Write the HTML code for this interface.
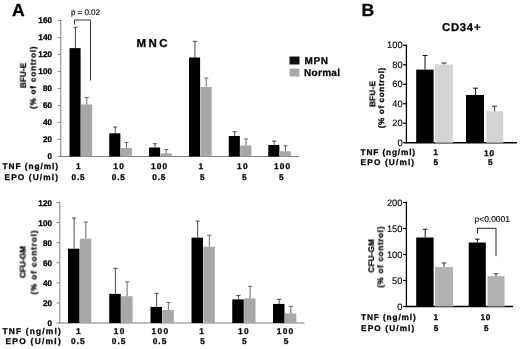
<!DOCTYPE html>
<html><head><meta charset="utf-8"><title>Figure</title>
<style>
html,body{margin:0;padding:0;background:#fff;}
svg{display:block;font-family:"Liberation Sans", Arial, sans-serif;}
svg text{filter:url(#soft);text-rendering:geometricPrecision;}
</style></head>
<body>
<svg width="520" height="349" viewBox="0 0 520 349">
<defs><filter id="soft" x="-5%" y="-20%" width="110%" height="140%"><feGaussianBlur stdDeviation="0.3"/></filter></defs>
<rect x="0" y="0" width="520" height="349" fill="#fff"/>
<text x="12.0" y="15.6" font-size="17.6" font-weight="bold" stroke="#000" stroke-width="0.28" fill="#000">A</text>
<text x="361.6" y="15.5" font-size="17.6" font-weight="bold" stroke="#000" stroke-width="0.28" fill="#000">B</text>
<line x1="60.80" y1="20.00" x2="60.80" y2="157.00" stroke="#7f7f7f" stroke-width="1"/>
<line x1="60.30" y1="156.50" x2="299.00" y2="156.50" stroke="#7f7f7f" stroke-width="1"/>
<line x1="57.80" y1="156.50" x2="60.80" y2="156.50" stroke="#7f7f7f" stroke-width="0.9"/>
<text x="52.0" y="159.1" font-size="8.2" font-weight="bold" stroke="#000" stroke-width="0.28" text-anchor="end" fill="#000">0</text>
<line x1="57.80" y1="139.50" x2="60.80" y2="139.50" stroke="#7f7f7f" stroke-width="0.9"/>
<text x="52.0" y="142.1" font-size="8.2" font-weight="bold" stroke="#000" stroke-width="0.28" text-anchor="end" fill="#000">20</text>
<line x1="57.80" y1="122.50" x2="60.80" y2="122.50" stroke="#7f7f7f" stroke-width="0.9"/>
<text x="52.0" y="125.1" font-size="8.2" font-weight="bold" stroke="#000" stroke-width="0.28" text-anchor="end" fill="#000">40</text>
<line x1="57.80" y1="105.50" x2="60.80" y2="105.50" stroke="#7f7f7f" stroke-width="0.9"/>
<text x="52.0" y="108.1" font-size="8.2" font-weight="bold" stroke="#000" stroke-width="0.28" text-anchor="end" fill="#000">60</text>
<line x1="57.80" y1="88.50" x2="60.80" y2="88.50" stroke="#7f7f7f" stroke-width="0.9"/>
<text x="52.0" y="91.1" font-size="8.2" font-weight="bold" stroke="#000" stroke-width="0.28" text-anchor="end" fill="#000">80</text>
<line x1="57.80" y1="71.50" x2="60.80" y2="71.50" stroke="#7f7f7f" stroke-width="0.9"/>
<text x="52.0" y="74.1" font-size="8.2" font-weight="bold" stroke="#000" stroke-width="0.28" text-anchor="end" fill="#000">100</text>
<line x1="57.80" y1="54.50" x2="60.80" y2="54.50" stroke="#7f7f7f" stroke-width="0.9"/>
<text x="52.0" y="57.1" font-size="8.2" font-weight="bold" stroke="#000" stroke-width="0.28" text-anchor="end" fill="#000">120</text>
<line x1="57.80" y1="37.50" x2="60.80" y2="37.50" stroke="#7f7f7f" stroke-width="0.9"/>
<text x="52.0" y="40.1" font-size="8.2" font-weight="bold" stroke="#000" stroke-width="0.28" text-anchor="end" fill="#000">140</text>
<line x1="57.80" y1="20.50" x2="60.80" y2="20.50" stroke="#7f7f7f" stroke-width="0.9"/>
<text x="52.0" y="23.1" font-size="8.2" font-weight="bold" stroke="#000" stroke-width="0.28" text-anchor="end" fill="#000">160</text>
<rect x="69.50" y="48.12" width="11.10" height="108.38" fill="#000"/>
<rect x="80.90" y="104.40" width="11.30" height="52.10" fill="#a8a8a8"/>
<line x1="75.45" y1="27.30" x2="75.45" y2="48.12" stroke="#222" stroke-width="0.8"/>
<line x1="73.35" y1="27.30" x2="77.55" y2="27.30" stroke="#222" stroke-width="0.8"/>
<line x1="86.75" y1="97.43" x2="86.75" y2="104.40" stroke="#444" stroke-width="0.8"/>
<line x1="84.65" y1="97.43" x2="88.85" y2="97.43" stroke="#444" stroke-width="0.8"/>
<rect x="109.25" y="133.30" width="11.10" height="23.20" fill="#000"/>
<rect x="120.65" y="148.00" width="11.30" height="8.50" fill="#a8a8a8"/>
<line x1="115.20" y1="127.00" x2="115.20" y2="133.30" stroke="#222" stroke-width="0.8"/>
<line x1="113.10" y1="127.00" x2="117.30" y2="127.00" stroke="#222" stroke-width="0.8"/>
<line x1="126.50" y1="142.47" x2="126.50" y2="148.00" stroke="#444" stroke-width="0.8"/>
<line x1="124.40" y1="142.47" x2="128.60" y2="142.47" stroke="#444" stroke-width="0.8"/>
<rect x="149.00" y="147.49" width="11.10" height="9.01" fill="#000"/>
<rect x="160.40" y="153.27" width="11.30" height="3.23" fill="#a8a8a8"/>
<line x1="154.95" y1="143.75" x2="154.95" y2="147.49" stroke="#222" stroke-width="0.8"/>
<line x1="152.85" y1="143.75" x2="157.05" y2="143.75" stroke="#222" stroke-width="0.8"/>
<line x1="166.25" y1="149.53" x2="166.25" y2="153.27" stroke="#444" stroke-width="0.8"/>
<line x1="164.15" y1="149.53" x2="168.35" y2="149.53" stroke="#444" stroke-width="0.8"/>
<rect x="189.00" y="57.48" width="11.10" height="99.02" fill="#000"/>
<rect x="200.40" y="86.97" width="11.30" height="69.53" fill="#a8a8a8"/>
<line x1="194.95" y1="41.24" x2="194.95" y2="57.48" stroke="#222" stroke-width="0.8"/>
<line x1="192.85" y1="41.24" x2="197.05" y2="41.24" stroke="#222" stroke-width="0.8"/>
<line x1="206.25" y1="78.05" x2="206.25" y2="86.97" stroke="#444" stroke-width="0.8"/>
<line x1="204.15" y1="78.05" x2="208.35" y2="78.05" stroke="#444" stroke-width="0.8"/>
<rect x="228.75" y="136.01" width="11.10" height="20.49" fill="#000"/>
<rect x="240.15" y="145.45" width="11.30" height="11.05" fill="#a8a8a8"/>
<line x1="234.70" y1="131.76" x2="234.70" y2="136.01" stroke="#222" stroke-width="0.8"/>
<line x1="232.60" y1="131.76" x2="236.80" y2="131.76" stroke="#222" stroke-width="0.8"/>
<line x1="246.00" y1="138.99" x2="246.00" y2="145.45" stroke="#444" stroke-width="0.8"/>
<line x1="243.90" y1="138.99" x2="248.10" y2="138.99" stroke="#444" stroke-width="0.8"/>
<rect x="268.25" y="145.03" width="11.10" height="11.47" fill="#000"/>
<rect x="279.65" y="151.23" width="11.30" height="5.27" fill="#a8a8a8"/>
<line x1="274.20" y1="141.20" x2="274.20" y2="145.03" stroke="#222" stroke-width="0.8"/>
<line x1="272.10" y1="141.20" x2="276.30" y2="141.20" stroke="#222" stroke-width="0.8"/>
<line x1="285.50" y1="145.79" x2="285.50" y2="151.23" stroke="#444" stroke-width="0.8"/>
<line x1="283.40" y1="145.79" x2="287.60" y2="145.79" stroke="#444" stroke-width="0.8"/>
<polyline points="74.5,24.5 74.5,20 90.5,20 90.5,80.5" fill="none" stroke="#222" stroke-width="0.9"/>
<text x="71" y="15" font-size="8.2" stroke="#000" stroke-width="0.12" textLength="29" lengthAdjust="spacing" fill="#000">p = 0.02</text>
<text x="136.5" y="47" font-size="11.5" font-weight="bold" stroke="#000" stroke-width="0.28" textLength="31" lengthAdjust="spacing" fill="#000">MNC</text>
<rect x="289.50" y="56.50" width="10.00" height="8.00" fill="#111"/>
<rect x="289.50" y="68.50" width="10.00" height="8.00" fill="#a8a8a8"/>
<text x="304.5" y="64.3" font-size="10" font-weight="bold" stroke="#000" stroke-width="0.28" textLength="23.5" lengthAdjust="spacing" fill="#000">MPN</text>
<text x="304" y="76.3" font-size="10" font-weight="bold" stroke="#000" stroke-width="0.28" textLength="36" lengthAdjust="spacing" fill="#000">Normal</text>
<text x="25.3" y="75.5" font-size="8.1" font-weight="bold" stroke="#000" stroke-width="0.28" text-anchor="middle" textLength="25" lengthAdjust="spacing" transform="rotate(-90 25.3 75.5)" fill="#000">BFU-E</text>
<text x="35.3" y="77.6" font-size="8.1" font-weight="bold" stroke="#000" stroke-width="0.28" text-anchor="middle" textLength="62.5" lengthAdjust="spacing" transform="rotate(-90 35.3 77.6)" fill="#000">(% of control)</text>
<text x="2.5" y="169.4" font-size="8.3" font-weight="bold" stroke="#000" stroke-width="0.28" textLength="55.5" lengthAdjust="spacing" fill="#000">TNF (ng/ml)</text>
<text x="4.5" y="179.7" font-size="8.3" font-weight="bold" stroke="#000" stroke-width="0.28" textLength="53.5" lengthAdjust="spacing" fill="#000">EPO (U/ml)</text>
<text x="78.9" y="169.3" font-size="8.3" font-weight="bold" stroke="#000" stroke-width="0.28" text-anchor="middle" letter-spacing="1.2" fill="#000">1</text>
<text x="78.5" y="179.6" font-size="8.3" font-weight="bold" stroke="#000" stroke-width="0.28" text-anchor="middle" letter-spacing="0.8" fill="#000">0.5</text>
<text x="119.15" y="169.3" font-size="8.3" font-weight="bold" stroke="#000" stroke-width="0.28" text-anchor="middle" letter-spacing="1.2" fill="#000">10</text>
<text x="118.75" y="179.6" font-size="8.3" font-weight="bold" stroke="#000" stroke-width="0.28" text-anchor="middle" letter-spacing="0.8" fill="#000">0.5</text>
<text x="159.65" y="169.3" font-size="8.3" font-weight="bold" stroke="#000" stroke-width="0.28" text-anchor="middle" letter-spacing="1.2" fill="#000">100</text>
<text x="159.25" y="179.6" font-size="8.3" font-weight="bold" stroke="#000" stroke-width="0.28" text-anchor="middle" letter-spacing="0.8" fill="#000">0.5</text>
<text x="201.4" y="169.3" font-size="8.3" font-weight="bold" stroke="#000" stroke-width="0.28" text-anchor="middle" letter-spacing="1.2" fill="#000">1</text>
<text x="202.7" y="179.6" font-size="8.3" font-weight="bold" stroke="#000" stroke-width="0.28" text-anchor="middle" letter-spacing="0.8" fill="#000">5</text>
<text x="242.9" y="169.3" font-size="8.3" font-weight="bold" stroke="#000" stroke-width="0.28" text-anchor="middle" letter-spacing="1.2" fill="#000">10</text>
<text x="244.6" y="179.6" font-size="8.3" font-weight="bold" stroke="#000" stroke-width="0.28" text-anchor="middle" letter-spacing="0.8" fill="#000">5</text>
<text x="282.65" y="169.3" font-size="8.3" font-weight="bold" stroke="#000" stroke-width="0.28" text-anchor="middle" letter-spacing="1.2" fill="#000">100</text>
<text x="281.6" y="179.6" font-size="8.3" font-weight="bold" stroke="#000" stroke-width="0.28" text-anchor="middle" letter-spacing="0.8" fill="#000">5</text>
<line x1="59.80" y1="202.00" x2="59.80" y2="323.50" stroke="#7f7f7f" stroke-width="1"/>
<line x1="59.30" y1="323.00" x2="304.50" y2="323.00" stroke="#7f7f7f" stroke-width="1"/>
<line x1="56.40" y1="323.00" x2="59.80" y2="323.00" stroke="#7f7f7f" stroke-width="0.9"/>
<text x="52.0" y="326.1" font-size="8.2" font-weight="bold" stroke="#000" stroke-width="0.28" text-anchor="end" fill="#000">0</text>
<line x1="56.40" y1="302.92" x2="59.80" y2="302.92" stroke="#7f7f7f" stroke-width="0.9"/>
<text x="52.0" y="306.0166666666667" font-size="8.2" font-weight="bold" stroke="#000" stroke-width="0.28" text-anchor="end" fill="#000">20</text>
<line x1="56.40" y1="282.83" x2="59.80" y2="282.83" stroke="#7f7f7f" stroke-width="0.9"/>
<text x="52.0" y="285.93333333333334" font-size="8.2" font-weight="bold" stroke="#000" stroke-width="0.28" text-anchor="end" fill="#000">40</text>
<line x1="56.40" y1="262.75" x2="59.80" y2="262.75" stroke="#7f7f7f" stroke-width="0.9"/>
<text x="52.0" y="265.85" font-size="8.2" font-weight="bold" stroke="#000" stroke-width="0.28" text-anchor="end" fill="#000">60</text>
<line x1="56.40" y1="242.67" x2="59.80" y2="242.67" stroke="#7f7f7f" stroke-width="0.9"/>
<text x="52.0" y="245.76666666666668" font-size="8.2" font-weight="bold" stroke="#000" stroke-width="0.28" text-anchor="end" fill="#000">80</text>
<line x1="56.40" y1="222.58" x2="59.80" y2="222.58" stroke="#7f7f7f" stroke-width="0.9"/>
<text x="52.0" y="225.6833333333333" font-size="8.2" font-weight="bold" stroke="#000" stroke-width="0.28" text-anchor="end" fill="#000">100</text>
<line x1="56.40" y1="202.50" x2="59.80" y2="202.50" stroke="#7f7f7f" stroke-width="0.9"/>
<text x="52.0" y="205.6" font-size="8.2" font-weight="bold" stroke="#000" stroke-width="0.28" text-anchor="end" fill="#000">120</text>
<rect x="68.00" y="248.69" width="11.50" height="74.31" fill="#000"/>
<rect x="79.80" y="238.65" width="11.50" height="84.35" fill="#a8a8a8"/>
<line x1="74.15" y1="218.06" x2="74.15" y2="248.69" stroke="#222" stroke-width="0.8"/>
<line x1="72.05" y1="218.06" x2="76.25" y2="218.06" stroke="#222" stroke-width="0.8"/>
<line x1="85.85" y1="222.08" x2="85.85" y2="238.65" stroke="#444" stroke-width="0.8"/>
<line x1="83.75" y1="222.08" x2="87.95" y2="222.08" stroke="#444" stroke-width="0.8"/>
<rect x="109.25" y="293.88" width="11.50" height="29.12" fill="#000"/>
<rect x="121.05" y="296.19" width="11.50" height="26.81" fill="#a8a8a8"/>
<line x1="115.40" y1="268.27" x2="115.40" y2="293.88" stroke="#222" stroke-width="0.8"/>
<line x1="113.30" y1="268.27" x2="117.50" y2="268.27" stroke="#222" stroke-width="0.8"/>
<line x1="127.10" y1="281.83" x2="127.10" y2="296.19" stroke="#444" stroke-width="0.8"/>
<line x1="125.00" y1="281.83" x2="129.20" y2="281.83" stroke="#444" stroke-width="0.8"/>
<rect x="150.50" y="306.93" width="11.50" height="16.07" fill="#000"/>
<rect x="162.30" y="309.95" width="11.50" height="13.05" fill="#a8a8a8"/>
<line x1="156.65" y1="293.38" x2="156.65" y2="306.93" stroke="#222" stroke-width="0.8"/>
<line x1="154.55" y1="293.38" x2="158.75" y2="293.38" stroke="#222" stroke-width="0.8"/>
<line x1="168.35" y1="302.41" x2="168.35" y2="309.95" stroke="#444" stroke-width="0.8"/>
<line x1="166.25" y1="302.41" x2="170.45" y2="302.41" stroke="#444" stroke-width="0.8"/>
<rect x="191.50" y="237.65" width="11.50" height="85.35" fill="#000"/>
<rect x="203.30" y="246.68" width="11.50" height="76.32" fill="#a8a8a8"/>
<line x1="197.65" y1="221.08" x2="197.65" y2="237.65" stroke="#222" stroke-width="0.8"/>
<line x1="195.55" y1="221.08" x2="199.75" y2="221.08" stroke="#222" stroke-width="0.8"/>
<line x1="209.35" y1="235.14" x2="209.35" y2="246.68" stroke="#444" stroke-width="0.8"/>
<line x1="207.25" y1="235.14" x2="211.45" y2="235.14" stroke="#444" stroke-width="0.8"/>
<rect x="232.25" y="299.40" width="11.50" height="23.60" fill="#000"/>
<rect x="244.05" y="298.40" width="11.50" height="24.60" fill="#a8a8a8"/>
<line x1="238.40" y1="295.39" x2="238.40" y2="299.40" stroke="#222" stroke-width="0.8"/>
<line x1="236.30" y1="295.39" x2="240.50" y2="295.39" stroke="#222" stroke-width="0.8"/>
<line x1="250.10" y1="286.35" x2="250.10" y2="298.40" stroke="#444" stroke-width="0.8"/>
<line x1="248.00" y1="286.35" x2="252.20" y2="286.35" stroke="#444" stroke-width="0.8"/>
<rect x="273.00" y="303.92" width="11.50" height="19.08" fill="#000"/>
<rect x="284.80" y="313.46" width="11.50" height="9.54" fill="#a8a8a8"/>
<line x1="279.15" y1="299.40" x2="279.15" y2="303.92" stroke="#222" stroke-width="0.8"/>
<line x1="277.05" y1="299.40" x2="281.25" y2="299.40" stroke="#222" stroke-width="0.8"/>
<line x1="290.85" y1="306.43" x2="290.85" y2="313.46" stroke="#444" stroke-width="0.8"/>
<line x1="288.75" y1="306.43" x2="292.95" y2="306.43" stroke="#444" stroke-width="0.8"/>
<text x="25.5" y="262" font-size="8.1" font-weight="bold" stroke="#000" stroke-width="0.28" text-anchor="middle" textLength="32" lengthAdjust="spacing" transform="rotate(-90 25.5 262)" fill="#000">CFU-GM</text>
<text x="36" y="262.5" font-size="8.1" font-weight="bold" stroke="#000" stroke-width="0.28" text-anchor="middle" textLength="64" lengthAdjust="spacing" transform="rotate(-90 36 262.5)" fill="#000">(% of control)</text>
<text x="2.5" y="334.0" font-size="8.4" font-weight="bold" stroke="#000" stroke-width="0.28" textLength="58.2" lengthAdjust="spacing" fill="#000">TNF (ng/ml)</text>
<text x="5.5" y="344.4" font-size="8.4" font-weight="bold" stroke="#000" stroke-width="0.28" textLength="55.2" lengthAdjust="spacing" fill="#000">EPO (U/ml)</text>
<text x="78.9" y="334.0" font-size="8.4" font-weight="bold" stroke="#000" stroke-width="0.28" text-anchor="middle" letter-spacing="1.3" fill="#000">1</text>
<text x="78.4" y="344.4" font-size="8.4" font-weight="bold" stroke="#000" stroke-width="0.28" text-anchor="middle" letter-spacing="1.0" fill="#000">0.5</text>
<text x="119.65" y="334.0" font-size="8.4" font-weight="bold" stroke="#000" stroke-width="0.28" text-anchor="middle" letter-spacing="1.3" fill="#000">10</text>
<text x="119.15" y="344.4" font-size="8.4" font-weight="bold" stroke="#000" stroke-width="0.28" text-anchor="middle" letter-spacing="1.0" fill="#000">0.5</text>
<text x="160.5" y="334.0" font-size="8.4" font-weight="bold" stroke="#000" stroke-width="0.28" text-anchor="middle" letter-spacing="1.3" fill="#000">100</text>
<text x="160.0" y="344.4" font-size="8.4" font-weight="bold" stroke="#000" stroke-width="0.28" text-anchor="middle" letter-spacing="1.0" fill="#000">0.5</text>
<text x="202.15" y="334.0" font-size="8.4" font-weight="bold" stroke="#000" stroke-width="0.28" text-anchor="middle" letter-spacing="1.3" fill="#000">1</text>
<text x="203.15" y="344.4" font-size="8.4" font-weight="bold" stroke="#000" stroke-width="0.28" text-anchor="middle" letter-spacing="1.0" fill="#000">5</text>
<text x="243.9" y="334.0" font-size="8.4" font-weight="bold" stroke="#000" stroke-width="0.28" text-anchor="middle" letter-spacing="1.3" fill="#000">10</text>
<text x="244.9" y="344.4" font-size="8.4" font-weight="bold" stroke="#000" stroke-width="0.28" text-anchor="middle" letter-spacing="1.0" fill="#000">5</text>
<text x="285.65" y="334.0" font-size="8.4" font-weight="bold" stroke="#000" stroke-width="0.28" text-anchor="middle" letter-spacing="1.3" fill="#000">100</text>
<text x="286.65" y="344.4" font-size="8.4" font-weight="bold" stroke="#000" stroke-width="0.28" text-anchor="middle" letter-spacing="1.0" fill="#000">5</text>
<line x1="406.40" y1="44.60" x2="406.40" y2="143.40" stroke="#000" stroke-width="1.3"/>
<line x1="405.75" y1="142.75" x2="517.00" y2="142.75" stroke="#000" stroke-width="1.3"/>
<line x1="403.00" y1="142.75" x2="406.40" y2="142.75" stroke="#000" stroke-width="1.2"/>
<text x="402.6" y="145.85" font-size="9.3" stroke="#000" stroke-width="0.12" text-anchor="end" fill="#000">0</text>
<line x1="403.00" y1="123.25" x2="406.40" y2="123.25" stroke="#000" stroke-width="1.2"/>
<text x="402.6" y="126.35" font-size="9.3" stroke="#000" stroke-width="0.12" text-anchor="end" fill="#000">20</text>
<line x1="403.00" y1="103.75" x2="406.40" y2="103.75" stroke="#000" stroke-width="1.2"/>
<text x="402.6" y="106.85" font-size="9.3" stroke="#000" stroke-width="0.12" text-anchor="end" fill="#000">40</text>
<line x1="403.00" y1="84.25" x2="406.40" y2="84.25" stroke="#000" stroke-width="1.2"/>
<text x="402.6" y="87.35" font-size="9.3" stroke="#000" stroke-width="0.12" text-anchor="end" fill="#000">60</text>
<line x1="403.00" y1="64.75" x2="406.40" y2="64.75" stroke="#000" stroke-width="1.2"/>
<text x="402.6" y="67.85" font-size="9.3" stroke="#000" stroke-width="0.12" text-anchor="end" fill="#000">80</text>
<line x1="403.00" y1="45.25" x2="406.40" y2="45.25" stroke="#000" stroke-width="1.2"/>
<text x="402.6" y="48.35" font-size="9.3" stroke="#000" stroke-width="0.12" text-anchor="end" fill="#000">100</text>
<rect x="416.20" y="69.62" width="17.40" height="73.12" fill="#000"/>
<line x1="425.00" y1="55.49" x2="425.00" y2="69.62" stroke="#111" stroke-width="1"/>
<line x1="422.50" y1="55.49" x2="427.50" y2="55.49" stroke="#111" stroke-width="1"/>
<rect x="435.00" y="64.46" width="18.00" height="78.29" fill="#d4d4d4"/>
<line x1="444.00" y1="63.00" x2="444.00" y2="64.46" stroke="#333" stroke-width="1"/>
<line x1="441.50" y1="63.00" x2="446.50" y2="63.00" stroke="#333" stroke-width="1"/>
<rect x="466.00" y="94.97" width="18.00" height="47.78" fill="#000"/>
<line x1="475.50" y1="88.15" x2="475.50" y2="94.97" stroke="#111" stroke-width="1"/>
<line x1="473.00" y1="88.15" x2="478.00" y2="88.15" stroke="#111" stroke-width="1"/>
<rect x="486.20" y="111.26" width="17.10" height="31.49" fill="#d4d4d4"/>
<line x1="494.60" y1="106.19" x2="494.60" y2="111.26" stroke="#333" stroke-width="1"/>
<line x1="492.10" y1="106.19" x2="497.10" y2="106.19" stroke="#333" stroke-width="1"/>
<text x="442" y="31" font-size="11.3" font-weight="bold" stroke="#000" stroke-width="0.28" textLength="38.5" lengthAdjust="spacing" fill="#000">CD34+</text>
<text x="375.2" y="94" font-size="8.1" font-weight="bold" stroke="#000" stroke-width="0.28" text-anchor="middle" textLength="26" lengthAdjust="spacing" transform="rotate(-90 375.2 94)" fill="#000">BFU-E</text>
<text x="384" y="98" font-size="8.1" font-weight="bold" stroke="#000" stroke-width="0.28" text-anchor="middle" textLength="60.5" lengthAdjust="spacing" transform="rotate(-90 384 98)" fill="#000">(% of control)</text>
<text x="360.6" y="154.6" font-size="8.3" font-weight="bold" stroke="#000" stroke-width="0.28" textLength="54.5" lengthAdjust="spacing" fill="#000">TNF (ng/ml)</text>
<text x="360.6" y="165.2" font-size="8.3" font-weight="bold" stroke="#000" stroke-width="0.28" textLength="53.5" lengthAdjust="spacing" fill="#000">EPO (U/ml)</text>
<text x="435.5" y="154.6" font-size="8.3" font-weight="bold" stroke="#000" stroke-width="0.28" text-anchor="middle" fill="#000">1</text>
<text x="489.5" y="155.8" font-size="8.3" font-weight="bold" stroke="#000" stroke-width="0.28" text-anchor="middle" letter-spacing="0.8" fill="#000">10</text>
<text x="435.7" y="165.4" font-size="8.3" font-weight="bold" stroke="#000" stroke-width="0.28" text-anchor="middle" fill="#000">5</text>
<text x="490.2" y="165.4" font-size="8.3" font-weight="bold" stroke="#000" stroke-width="0.28" text-anchor="middle" fill="#000">5</text>
<line x1="406.40" y1="201.80" x2="406.40" y2="307.15" stroke="#000" stroke-width="1.3"/>
<line x1="405.75" y1="306.50" x2="513.00" y2="306.50" stroke="#000" stroke-width="1.3"/>
<line x1="403.00" y1="306.50" x2="406.40" y2="306.50" stroke="#000" stroke-width="1.2"/>
<text x="402.4" y="309.6" font-size="9.3" stroke="#000" stroke-width="0.12" text-anchor="end" fill="#000">0</text>
<line x1="403.00" y1="280.50" x2="406.40" y2="280.50" stroke="#000" stroke-width="1.2"/>
<text x="402.4" y="283.6" font-size="9.3" stroke="#000" stroke-width="0.12" text-anchor="end" fill="#000">50</text>
<line x1="403.00" y1="254.50" x2="406.40" y2="254.50" stroke="#000" stroke-width="1.2"/>
<text x="402.4" y="257.6" font-size="9.3" stroke="#000" stroke-width="0.12" text-anchor="end" fill="#000">100</text>
<line x1="403.00" y1="228.50" x2="406.40" y2="228.50" stroke="#000" stroke-width="1.2"/>
<text x="402.4" y="231.6" font-size="9.3" stroke="#000" stroke-width="0.12" text-anchor="end" fill="#000">150</text>
<line x1="403.00" y1="202.50" x2="406.40" y2="202.50" stroke="#000" stroke-width="1.2"/>
<text x="402.4" y="205.6" font-size="9.3" stroke="#000" stroke-width="0.12" text-anchor="end" fill="#000">200</text>
<rect x="416.20" y="237.50" width="17.40" height="69.00" fill="#000"/>
<line x1="425.20" y1="229.28" x2="425.20" y2="237.50" stroke="#111" stroke-width="1"/>
<line x1="422.90" y1="229.28" x2="427.50" y2="229.28" stroke="#111" stroke-width="1"/>
<rect x="435.00" y="266.98" width="18.00" height="39.52" fill="#b2b2b2"/>
<line x1="444.00" y1="262.98" x2="444.00" y2="266.98" stroke="#333" stroke-width="1"/>
<line x1="441.70" y1="262.98" x2="446.30" y2="262.98" stroke="#333" stroke-width="1"/>
<rect x="468.70" y="242.54" width="17.10" height="63.96" fill="#000"/>
<line x1="477.30" y1="239.16" x2="477.30" y2="242.54" stroke="#111" stroke-width="1"/>
<line x1="475.00" y1="239.16" x2="479.60" y2="239.16" stroke="#111" stroke-width="1"/>
<rect x="487.50" y="276.03" width="17.00" height="30.47" fill="#b2b2b2"/>
<line x1="496.00" y1="273.74" x2="496.00" y2="276.03" stroke="#333" stroke-width="1"/>
<line x1="493.70" y1="273.74" x2="498.30" y2="273.74" stroke="#333" stroke-width="1"/>
<polyline points="477.5,233.5 477.5,228.3 496,228.3 496,256.3" fill="none" stroke="#222" stroke-width="1"/>
<text x="474.5" y="222" font-size="8.5" stroke="#000" stroke-width="0.12" textLength="35.5" lengthAdjust="spacing" fill="#000">p&lt;0.0001</text>
<text x="373.8" y="255.8" font-size="8.1" font-weight="bold" stroke="#000" stroke-width="0.28" text-anchor="middle" textLength="33.5" lengthAdjust="spacing" transform="rotate(-90 373.8 255.8)" fill="#000">CFU-GM</text>
<text x="383.3" y="257.2" font-size="8.1" font-weight="bold" stroke="#000" stroke-width="0.28" text-anchor="middle" textLength="61.2" lengthAdjust="spacing" transform="rotate(-90 383.3 257.2)" fill="#000">(% of control)</text>
<text x="361" y="320" font-size="8.3" font-weight="bold" stroke="#000" stroke-width="0.28" textLength="54.8" lengthAdjust="spacing" fill="#000">TNF (ng/ml)</text>
<text x="361" y="331" font-size="8.3" font-weight="bold" stroke="#000" stroke-width="0.28" textLength="53.3" lengthAdjust="spacing" fill="#000">EPO (U/ml)</text>
<text x="435.8" y="320" font-size="8.3" font-weight="bold" stroke="#000" stroke-width="0.28" text-anchor="middle" fill="#000">1</text>
<text x="485.8" y="320" font-size="8.3" font-weight="bold" stroke="#000" stroke-width="0.28" text-anchor="middle" letter-spacing="0.8" fill="#000">10</text>
<text x="436" y="331" font-size="8.3" font-weight="bold" stroke="#000" stroke-width="0.28" text-anchor="middle" fill="#000">5</text>
<text x="486.3" y="331" font-size="8.3" font-weight="bold" stroke="#000" stroke-width="0.28" text-anchor="middle" fill="#000">5</text>
</svg>
</body></html>
